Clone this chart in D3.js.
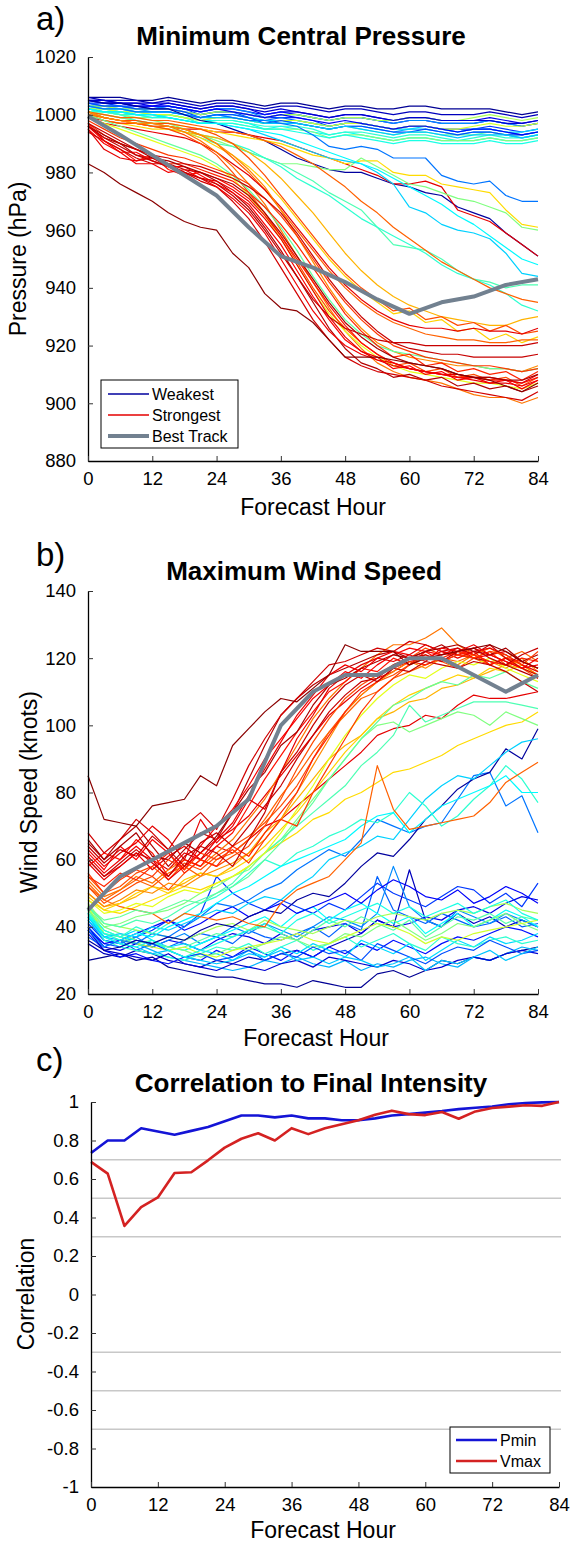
<!DOCTYPE html>
<html>
<head>
<meta charset="utf-8">
<script src="https://cdn.jsdelivr.net/npm/d3@7"></script>
<style>
  html, body { margin: 0; padding: 0; background: #fff; }
  svg { display: block; }
</style>
</head>
<body>
<svg id="fig" width="570" height="1542"></svg>
<script>
// ---------------------------------------------------------------
// Ensemble forecasts of a tropical cyclone: minimum central pressure,
// maximum wind speed and their correlation to final intensity.
// ---------------------------------------------------------------

const forecastHours = [0,3,6,9,12,15,18,21,24,27,30,33,36,39,42,45,48,51,54,57,60,63,66,69,72,75,78,81,84];
const hourTicks = [0,12,24,36,48,60,72,84];
const pressureTicks = [880,900,920,940,960,980,1000,1020];
const windTicks = [20,40,60,80,100,120,140];
const corrTicks = [-1,-0.8,-0.6,-0.4,-0.2,0,0.2,0.4,0.6,0.8,1];
const corrGuides = [-0.7,-0.5,-0.3,0.3,0.5,0.7];

// colormap position of each member (0 = weakest, 1 = strongest)
const memberShade = [
  0.02,0.06,0.10,0.14,0.18,0.22,0.26,0.30,0.34,0.38,
  0.42,0.46,0.50,0.54,0.58,0.08,0.20,0.32,0.12,0.40,
  0.24,0.03,0.90,0.66,0.50,0.33,0.45,0.42,0.37,0.78,
  0.70,0.80,0.67,0.78,0.90,0.76,0.80,0.74,0.60,0.47,
  0.95,0.88,0.86,0.92,0.84,0.90,0.96,0.82,0.89,0.93,0.93,0.99
];

// minimum central pressure (hPa) of each member, every 3 h
const pressureRuns = [
  [1006,1006,1006,1005,1005,1006,1005,1004,1005,1005,1004,1003,1004,1004,1003,1002,1003,1003,1002,1002,1003,1003,1002,1002,1002,1002,1001,1000,1001],
  [1006,1005,1005,1005,1004,1005,1004,1003,1004,1004,1003,1002,1003,1003,1002,1001,1002,1002,1001,1000,1001,1001,1000,1000,1000,1001,1000,999,1000],
  [1005,1005,1004,1004,1003,1004,1003,1002,1003,1003,1002,1000,1001,1001,1000,999,1000,1000,999,998,999,999,998,998,998,999,998,997,998],
  [1005,1004,1004,1003,1003,1003,1002,1001,1002,1002,1001,1000,1001,1000,999,998,999,999,998,997,998,998,997,997,997,998,997,996,997],
  [1004,1004,1003,1003,1002,1003,1002,1000,1001,1001,1000,999,999,999,998,996,997,997,996,995,996,996,995,995,995,996,995,994,995],
  [1004,1003,1003,1002,1002,1002,1001,1000,1001,1001,999,998,999,998,997,996,997,997,996,995,996,996,995,994,995,995,994,993,994],
  [1003,1003,1003,1002,1002,1003,1002,1001,1002,1002,1001,999,1000,1000,999,998,999,999,998,997,998,998,997,997,997,998,997,996,997],
  [1003,1003,1002,1002,1001,1001,1000,999,1000,999,998,997,998,997,996,995,996,996,995,994,995,995,994,993,994,994,993,992,993],
  [1003,1002,1002,1001,1001,1001,1000,999,1000,1000,999,998,998,998,997,996,997,997,996,995,995,996,995,994,995,995,994,994,995],
  [1002,1002,1001,1000,1000,1000,999,998,998,998,997,995,996,995,994,993,994,993,992,991,992,992,991,991,991,992,991,991,992],
  [1002,1001,1001,1000,999,1000,999,997,998,998,997,996,996,996,995,993,994,994,993,992,993,993,992,991,992,993,992,992,993],
  [1002,1002,1001,1001,1000,1000,999,998,999,999,998,997,997,997,996,995,996,995,994,993,994,994,993,993,993,994,993,993,994],
  [1001,1001,1000,999,999,999,998,997,997,997,996,995,995,995,994,992,993,993,992,991,992,992,991,991,991,992,991,991,992],
  [1003,1003,1002,1002,1002,1002,1001,1000,1001,1001,1000,999,1000,1000,999,998,999,999,998,998,999,999,998,998,999,1000,999,998,999],
  [1002,1002,1001,1001,1000,1000,999,998,999,999,998,997,998,998,997,996,997,997,996,995,996,996,995,995,996,997,996,996,997],
  [1005,1005,1004,1004,1004,1004,1003,1002,1003,1003,1002,1001,1002,1001,1000,999,1000,1000,999,998,999,999,998,998,998,998,997,997,998],
  [1004,1003,1003,1002,1002,1002,1001,999,1000,1000,999,997,998,997,996,995,996,996,995,994,994,995,994,993,994,994,993,993,994],
  [1003,1002,1002,1001,1001,1001,1000,999,999,999,998,997,997,997,996,995,996,995,994,993,994,994,993,992,993,993,993,992,993],
  [1005,1004,1004,1003,1003,1003,1002,1001,1002,1001,1000,999,1000,999,998,997,998,997,996,995,996,996,995,994,995,995,994,993,994],
  [1001,1001,1000,1000,999,999,998,997,997,997,996,995,995,994,993,992,993,992,991,990,991,991,990,990,990,991,990,990,991],
  [1003,1002,1002,1001,1001,1001,1000,999,1000,999,998,998,997,996,993,989,988,989,988,985,985,985,979,977,976,977,972,970,970],
  [1005,1004,1004,1003,1002,1002,1000,998,997,995,993,991,988,985,983,981,980,980,978,976,975,973,972,968,966,964,959,955,951],
  [999,998,997,997,996,996,995,995,994,994,993,992,991,989,987,985,983,981,979,976,976,977,975,967,965,963,959,955,951],
  [1001,1000,999,998,997,997,996,995,994,993,992,991,990,988,986,985,983,984,984,980,979,979,976,975,974,973,967,962,961],
  [1002,1001,1000,999,998,997,995,993,991,989,987,985,983,983,982,981,981,985,982,979,976,975,973,971,970,968,966,961,960],
  [1002,1001,1001,1000,1000,999,998,997,997,996,995,993,991,989,987,985,984,983,980,976,968,966,962,960,959,957,952,945,944],
  [1001,1000,999,998,996,995,994,992,990,989,987,985,983,980,977,973,970,967,961,955,954,953,950,946,943,942,940,941,941],
  [1002,1001,1000,998,997,996,994,993,992,990,988,985,982,978,975,972,968,964,961,958,955,952,948,945,943,941,938,934,932],
  [1002,1001,1001,1000,1000,999,998,997,997,996,995,994,993,991,989,987,985,983,981,978,975,972,969,965,962,958,954,950,948],
  [1001,1000,999,999,998,998,997,996,995,994,993,991,989,986,983,979,975,970,966,961,957,953,949,946,943,940,938,936,935],
  [1000,999,998,997,996,995,994,993,992,990,987,983,978,972,966,959,952,946,941,937,934,932,930,929,928,927,927,929,930],
  [1001,999,998,998,997,997,996,995,993,990,985,979,972,965,958,951,945,940,936,932,933,929,930,927,928,925,927,924,925],
  [1000,998,997,996,995,995,994,992,989,986,982,977,971,964,957,950,944,939,935,931,932,928,929,925,926,922,924,921,923],
  [1000,999,998,997,997,996,995,993,990,985,980,974,967,960,953,946,940,935,931,928,926,924,923,922,922,921,921,922,922],
  [999,997,996,995,994,993,992,990,987,983,979,974,968,961,954,947,941,936,932,929,927,926,926,925,926,925,925,924,926],
  [1001,999,998,997,996,996,994,991,987,982,976,969,960,951,942,933,925,919,914,911,909,908,907,905,903,902,902,900,902],
  [1000,998,997,997,996,995,993,990,986,980,973,966,958,949,940,932,926,921,917,913,914,911,912,909,910,908,909,906,909],
  [1001,999,998,997,997,996,995,993,990,986,981,975,967,958,949,940,932,926,921,918,916,915,914,913,913,912,912,911,913],
  [999,997,995,993,991,989,987,985,982,978,972,965,957,948,939,931,925,920,916,913,911,910,909,908,907,907,906,905,907],
  [1000,998,996,994,992,990,988,986,983,979,974,968,961,953,944,936,929,924,920,918,917,916,915,914,913,912,912,911,912],
  [996,992,990,986,985,983,981,980,977,973,968,961,953,944,935,926,919,914,912,909,910,908,909,906,907,905,906,904,906],
  [995,990,987,987,984,982,982,979,976,973,969,962,955,946,937,929,922,918,916,912,913,910,911,908,909,907,908,905,908],
  [997,991,988,984,986,981,979,980,978,975,971,965,958,950,942,934,927,921,917,914,912,911,910,909,909,908,908,907,909],
  [994,991,988,985,983,983,980,977,975,970,964,956,947,938,929,922,916,913,911,910,909,908,906,905,904,903,902,901,904],
  [997,993,990,988,986,983,983,981,979,977,973,968,962,955,947,939,931,925,920,916,917,913,914,911,912,910,911,908,911],
  [995,988,985,984,985,982,980,978,977,974,970,964,957,948,939,930,923,918,915,913,912,911,910,910,909,909,908,907,910],
  [996,993,990,988,985,984,982,980,978,976,972,966,959,951,943,935,928,923,919,916,914,913,912,910,909,909,908,908,910],
  [998,995,992,990,988,986,985,983,981,979,976,971,965,958,950,942,935,929,924,920,918,916,915,914,913,913,912,911,912],
  [996,991,987,983,983,980,981,978,975,971,966,959,950,941,932,925,920,917,915,914,912,911,910,909,908,907,907,906,908],
  [997,994,991,988,986,985,983,982,980,978,975,971,966,959,951,943,936,930,925,921,919,918,917,917,916,916,916,916,917],
  [996,992,989,986,984,982,980,978,976,972,967,960,952,944,936,930,926,924,922,921,921,920,920,920,920,920,920,920,921],
  [983,980,976,973,970,966,963,961,960,952,947,938,933,932,928,922,916,916,916,915,914,913,912,910,909,908,906,904,907]
];

// maximum wind speed (knots) of each member, every 3 h
const windRuns = [
  [30,31,32,30,31,28,27,26,25,25,24,23,23,22,24,23,22,22,26,27,25,27,30,29,31,30,32,33,34],
  [35,32,31,33,32,30,29,28,30,29,31,30,32,33,31,34,36,38,42,40,57,42,40,44,41,43,40,42,40],
  [40,34,33,35,34,36,35,33,36,38,37,35,38,36,39,40,41,38,42,40,41,43,42,45,46,44,47,49,48],
  [38,33,31,32,30,29,31,30,33,31,34,32,30,33,31,34,32,35,33,36,34,32,35,37,36,38,40,39,37],
  [41,36,35,37,39,42,40,44,55,50,47,45,48,46,44,47,45,49,53,50,48,46,49,52,51,47,50,46,53],
  [37,34,36,33,35,34,36,38,37,35,39,37,36,38,40,37,41,39,55,45,43,41,44,42,40,41,43,40,41],
  [42,36,35,37,34,36,38,35,37,40,38,41,39,37,40,43,42,40,44,58,46,42,40,45,43,41,44,42,40],
  [43,37,36,35,33,31,30,29,28,27,28,30,29,31,29,28,30,27,29,28,30,31,29,28,31,30,32,34,33],
  [44,38,37,39,36,34,35,33,32,30,33,31,34,32,35,33,31,36,34,32,35,30,33,36,34,37,35,36,38],
  [45,39,37,36,35,34,33,35,37,39,41,43,40,44,46,42,45,47,44,41,43,38,41,44,40,42,45,43,40],
  [44,36,34,33,32,31,30,32,34,33,35,32,34,36,33,35,37,34,36,38,35,33,37,35,34,36,37,35,36],
  [45,38,37,35,36,33,34,36,38,37,39,40,38,36,39,42,40,43,41,39,42,37,40,43,42,44,41,43,42],
  [46,40,38,36,35,34,33,31,32,34,33,35,37,36,34,35,38,37,40,42,39,36,38,41,40,42,44,41,39],
  [47,41,40,39,38,37,36,38,40,41,39,42,40,39,38,40,42,41,43,44,43,42,44,45,44,46,47,45,44],
  [46,38,36,35,34,33,34,32,31,33,34,35,36,38,36,35,37,39,41,40,38,35,37,36,38,39,40,41,42],
  [39,33,32,31,30,32,29,28,27,29,28,27,29,30,28,31,30,29,28,30,29,27,28,30,31,30,32,33,32],
  [40,35,34,36,35,33,31,32,30,31,33,30,32,31,34,32,33,30,35,33,31,29,32,34,33,36,34,32,33],
  [43,37,35,34,32,33,31,30,29,30,32,31,33,30,31,29,31,30,28,29,31,27,30,29,31,33,30,32,34],
  [39,35,36,38,40,42,39,41,44,46,43,45,47,44,46,48,50,47,51,54,52,49,48,51,47,49,52,50,47],
  [44,37,35,34,36,33,31,33,35,37,39,41,38,42,44,41,43,45,47,44,46,43,45,47,44,46,48,44,42],
  [39,34,36,35,38,37,40,43,47,46,48,51,53,57,60,63,61,66,72,70,68,70,71,78,85,86,76,79,68],
  [36,33,34,36,35,37,36,39,41,40,43,45,44,48,50,49,53,58,62,61,66,72,76,81,84,86,93,90,99],
  [60,55,58,62,60,57,62,60,64,62,66,70,72,76,80,84,88,92,97,99,100,103,102,106,109,108,108,109,110],
  [48,45,44,46,48,50,52,51,53,55,58,62,65,68,72,74,78,80,83,86,87,89,91,94,96,98,100,101,104],
  [45,40,41,43,44,45,47,50,52,55,57,62,66,72,78,84,90,96,100,101,98,100,102,104,103,100,104,102,100],
  [42,37,38,37,40,39,41,43,45,44,47,49,48,52,55,60,62,64,67,66,72,78,82,85,84,88,92,95,96],
  [46,41,40,42,41,43,46,48,50,53,58,62,66,70,74,78,82,88,92,97,106,101,103,105,107,107,107,106,105],
  [44,39,37,40,38,41,44,47,49,52,56,60,58,62,64,67,69,72,71,74,80,76,70,73,78,82,88,84,77],
  [43,38,36,38,37,40,42,44,47,50,52,55,58,60,62,64,66,70,73,74,68,72,76,78,80,82,85,80,80],
  [52,48,46,45,44,41,44,43,42,43,41,40,47,51,53,55,60,65,88,75,69,70,71,72,73,77,83,86,89],
  [50,46,47,49,52,51,53,56,55,58,62,68,72,78,84,90,94,97,102,104,107,108,111,112,114,116,118,117,115],
  [55,50,52,56,58,54,59,57,61,64,67,71,76,82,90,98,104,109,113,115,118,121,119,117,120,122,118,119,117],
  [49,45,47,50,52,50,54,56,55,57,60,64,69,74,80,86,92,97,102,106,109,111,113,115,114,117,116,118,115],
  [53,48,51,54,52,56,58,55,60,62,66,72,79,85,92,98,103,108,110,114,116,118,120,119,121,118,120,122,119],
  [59,54,58,62,57,61,64,60,66,69,73,79,85,91,97,103,107,111,114,116,119,120,122,121,123,121,122,119,117],
  [54,49,51,55,53,57,60,58,62,66,72,78,86,94,102,108,113,117,121,124,124,126,129,124,121,123,120,118,115],
  [52,47,50,53,55,51,56,60,58,61,64,70,78,87,95,102,108,112,115,118,120,123,121,122,120,118,120,117,114],
  [50,46,48,51,50,53,52,55,57,59,62,66,72,80,88,96,104,109,113,116,119,117,120,118,121,119,117,120,116],
  [48,44,45,47,46,49,51,50,53,55,58,62,68,75,82,90,97,103,108,112,115,114,117,119,118,120,117,115,113],
  [46,42,43,45,44,46,48,47,50,52,55,60,65,71,77,84,90,96,101,106,108,111,113,112,115,114,116,113,111],
  [65,60,66,70,64,58,63,68,66,74,84,94,103,108,112,115,117,119,121,122,120,122,124,121,120,119,118,116,114],
  [62,57,64,60,66,62,57,64,70,75,82,90,96,102,108,112,116,114,118,121,123,122,121,123,120,121,119,117,118],
  [58,62,60,66,62,55,60,58,64,68,76,84,91,98,104,110,113,117,116,120,118,122,119,121,122,118,120,119,117],
  [68,62,66,72,68,63,70,74,69,78,88,96,103,108,113,118,119,121,123,122,125,124,122,123,121,124,120,117,115],
  [55,52,56,54,58,62,56,60,58,64,61,68,74,80,90,97,104,110,113,117,119,118,120,122,121,119,118,120,119],
  [63,58,62,65,70,66,60,72,65,70,78,75,86,96,103,111,115,118,120,119,121,124,122,120,122,123,121,118,116],
  [66,60,64,68,61,60,65,62,67,74,81,86,94,98,106,112,114,117,119,121,120,122,123,124,122,121,123,119,121],
  [56,50,54,57,55,60,57,62,60,63,59,66,72,70,80,88,96,104,110,114,118,120,119,121,120,122,121,118,122],
  [61,56,60,64,60,54,58,62,66,71,79,87,95,103,109,115,118,116,120,122,121,119,123,122,124,121,119,117,120],
  [64,59,63,61,67,63,58,65,68,64,70,76,82,90,97,104,109,113,114,118,120,121,119,122,123,120,118,121,123],
  [60,55,59,63,59,55,61,64,62,58,66,74,86,92,100,107,112,115,113,117,116,119,118,117,119,118,116,113,110],
  [85,72,71,70,76,77,78,85,82,94,99,104,108,107,111,115,124,122,122,122,118,120,121,122,123,124,122,119,117]
];

// observed best track, every 6 h
const bestTrackHours = [0,6,12,18,24,30,36,42,48,54,60,66,72,78,84];
const bestTrackPressure = [999.5,993,986,979,972,961,951,947,942,936,931,935,937,941,943];
const bestTrackWind = [45,55,60,65,70,78,100,110,115,115,120,120,115,110,115];

// correlation of each forecast hour to the final (84 h) intensity
const corrPmin = [0.735,0.80,0.80,0.864,0.847,0.83,0.85,0.87,0.90,0.93,0.93,0.92,0.93,0.915,0.915,0.905,0.905,0.915,0.93,0.937,0.945,0.953,0.963,0.97,0.977,0.988,0.995,0.998,1.0];
const corrVmax = [0.689,0.628,0.356,0.454,0.504,0.631,0.635,0.697,0.763,0.809,0.838,0.80,0.864,0.833,0.864,0.884,0.905,0.934,0.955,0.937,0.932,0.948,0.913,0.951,0.969,0.976,0.983,0.98,1.0];

// ---------------------------------------------------------------
const FONT = '"Liberation Sans", Arial, Helvetica, sans-serif';
const svg = d3.select("#fig").attr("font-family", FONT);

// MATLAB-like jet colormap
function jet(t) {
  const c = v => Math.max(0, Math.min(1, v));
  return d3.rgb(255 * c(1.5 - Math.abs(4 * t - 3)),
                255 * c(1.5 - Math.abs(4 * t - 2)),
                255 * c(1.5 - Math.abs(4 * t - 1))).formatHex();
}

const BEST_COLOR = "#728190";

function drawAxes(x, y, yTicks, yFormat) {
  const gy = svg.append("g")
    .attr("transform", `translate(${x.range()[0]},0)`)
    .call(d3.axisLeft(y).tickValues(yTicks).tickFormat(yFormat)
      .tickSize(-5).tickSizeOuter(0).tickPadding(12));
  const gx = svg.append("g")
    .attr("transform", `translate(0,${y.range()[0]})`)
    .call(d3.axisBottom(x).tickValues(hourTicks).tickFormat(d => String(d))
      .tickSize(-5).tickSizeOuter(0).tickPadding(11));
  [gx, gy].forEach(g => {
    g.attr("font-family", FONT).attr("font-size", 18.5);
    g.select(".domain").attr("stroke", "#000").attr("stroke-width", 1.3);
    g.selectAll(".tick line").attr("stroke", "#333").attr("stroke-width", 1);
    g.selectAll(".tick text").attr("fill", "#000");
  });
}

function panelText(letter, letterY, title, titleX, titleY, yLabel, yLabelX, yLabelY, xLabelY) {
  svg.append("text").attr("x", 36).attr("y", letterY)
    .attr("font-size", 33).text(letter);
  svg.append("text").attr("x", titleX).attr("y", titleY)
    .attr("text-anchor", "middle").attr("font-size", 26).attr("font-weight", "bold")
    .text(title);
  svg.append("text")
    .attr("transform", `translate(${yLabelX},${yLabelY}) rotate(-90)`)
    .attr("text-anchor", "middle").attr("dy", "0.35em").attr("font-size", 23)
    .text(yLabel);
  svg.append("text").attr("x", titleX + 12).attr("y", xLabelY)
    .attr("text-anchor", "middle").attr("dy", "0.35em").attr("font-size", 23)
    .text("Forecast Hour");
}

// ---------------- a) Minimum Central Pressure ----------------
const xA = d3.scaleLinear().domain([0, 84]).range([88, 538]);
const yA = d3.scaleLinear().domain([880, 1020]).range([461, 57]);

const lineA = d3.line().x((d, i) => xA(forecastHours[i])).y(d => yA(d));
svg.append("g").selectAll("path").data(pressureRuns).join("path")
  .attr("d", lineA).attr("fill", "none")
  .attr("stroke", (d, i) => jet(memberShade[i])).attr("stroke-width", 1.2)
  .attr("stroke-linejoin", "round");

svg.append("path")
  .attr("d", d3.line().x((d, i) => xA(bestTrackHours[i])).y(d => yA(d))(bestTrackPressure))
  .attr("fill", "none").attr("stroke", BEST_COLOR).attr("stroke-width", 4)
  .attr("stroke-linejoin", "round");

drawAxes(xA, yA, pressureTicks, d => String(d));
panelText("a)", 30, "Minimum Central Pressure", 301, 45, "Pressure (hPa)", 18, 259, 507);

// legend
const legA = svg.append("g");
legA.append("rect").attr("x", 101).attr("y", 380).attr("width", 137).attr("height", 68)
  .attr("fill", "#fff").attr("stroke", "#000").attr("stroke-width", 1);
[["Weakest", jet(0.03), 1.3], ["Strongest", jet(0.9), 1.3], ["Best Track", BEST_COLOR, 4]]
  .forEach(([label, color, w], i) => {
    const yy = 394 + i * 21;
    legA.append("line").attr("x1", 108).attr("x2", 149).attr("y1", yy).attr("y2", yy)
      .attr("stroke", color).attr("stroke-width", w);
    legA.append("text").attr("x", 152).attr("y", yy).attr("dy", "0.35em")
      .attr("font-size", 16).text(label);
  });

// ---------------- b) Maximum Wind Speed ----------------
const xB = d3.scaleLinear().domain([0, 84]).range([88, 538]);
const yB = d3.scaleLinear().domain([20, 140]).range([994, 591]);

const lineB = d3.line().x((d, i) => xB(forecastHours[i])).y(d => yB(d));
svg.append("g").selectAll("path").data(windRuns).join("path")
  .attr("d", lineB).attr("fill", "none")
  .attr("stroke", (d, i) => jet(memberShade[i])).attr("stroke-width", 1.2)
  .attr("stroke-linejoin", "round");

svg.append("path")
  .attr("d", d3.line().x((d, i) => xB(bestTrackHours[i])).y(d => yB(d))(bestTrackWind))
  .attr("fill", "none").attr("stroke", BEST_COLOR).attr("stroke-width", 4)
  .attr("stroke-linejoin", "round");

drawAxes(xB, yB, windTicks, d => String(d));
panelText("b)", 566, "Maximum Wind Speed", 304, 580, "Wind Speed (knots)", 29, 792, 1038);

// ---------------- c) Correlation to Final Intensity ----------------
const xC = d3.scaleLinear().domain([0, 84]).range([91, 559]);
const yC = d3.scaleLinear().domain([-1, 1]).range([1487, 1102]);

svg.append("g").selectAll("line").data(corrGuides).join("line")
  .attr("x1", xC(0)).attr("x2", xC(84) + 2).attr("y1", d => yC(d)).attr("y2", d => yC(d))
  .attr("stroke", "#c8c8c8").attr("stroke-width", 1.3);

const lineC = d3.line().x((d, i) => xC(forecastHours[i])).y(d => yC(d));
svg.append("path").attr("d", lineC(corrPmin)).attr("fill", "none")
  .attr("stroke", "#1414d6").attr("stroke-width", 2.6).attr("stroke-linejoin", "round");
svg.append("path").attr("d", lineC(corrVmax)).attr("fill", "none")
  .attr("stroke", "#d42222").attr("stroke-width", 2.6).attr("stroke-linejoin", "round");

drawAxes(xC, yC, corrTicks, d => String(d));
panelText("c)", 1071, "Correlation to Final Intensity", 311, 1092, "Correlation", 26, 1294, 1530);

const legC = svg.append("g");
legC.append("rect").attr("x", 450).attr("y", 1427).attr("width", 100).attr("height", 46)
  .attr("fill", "#fff").attr("stroke", "#000").attr("stroke-width", 1);
[["Pmin", "#1414d6"], ["Vmax", "#d42222"]].forEach(([label, color], i) => {
  const yy = 1440 + i * 21;
  legC.append("line").attr("x1", 456).attr("x2", 497).attr("y1", yy).attr("y2", yy)
    .attr("stroke", color).attr("stroke-width", 2.6);
  legC.append("text").attr("x", 500).attr("y", yy).attr("dy", "0.35em")
    .attr("font-size", 16).text(label);
});
</script>
</body>
</html>
